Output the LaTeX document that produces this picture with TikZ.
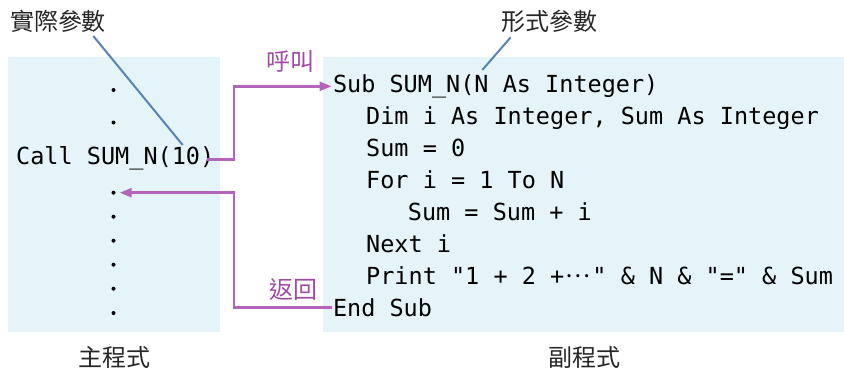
\documentclass[tikz,border=0pt]{standalone}
\usepackage{fontspec}
\setmonofont{DejaVu Sans Mono}
\newfontfamily\cjk{Noto Sans CJK TC}
\usetikzlibrary{arrows.meta}
\definecolor{panel}{HTML}{E4F4F8}
\definecolor{callc}{HTML}{B565B9}
\definecolor{labc}{HTML}{A04AA6}
\definecolor{linkc}{HTML}{5A82B4}
\tikzset{
  code/.style={anchor=base west,inner sep=0pt,font=\ttfamily\fontsize{23.5}{28}\selectfont},
  lab/.style={inner sep=0pt,font=\cjk\fontsize{24}{28}\selectfont,text=black!85},
  flowlab/.style={inner sep=0pt,font=\cjk\fontsize{24}{28}\selectfont,text=labc},
  dotn/.style={circle,fill=black,inner sep=0pt,minimum size=4pt},
  flow/.style={draw=callc,line width=2.6pt,-{Triangle[length=12pt,width=9pt]}},
  pointer/.style={draw=linkc,line width=2pt}
}
\newcommand{\middots}{\makebox[1.2em]{\raisebox{0.3em}{\cjk …}}}
\begin{document}
\begin{tikzpicture}[x=1pt,y=-1pt]
\useasboundingbox (0,0) rectangle (844,369);
% panels
\fill[panel] (8,57) rectangle (220,331.5);
\fill[panel] (322.5,57) rectangle (844,331.5);
% main program
\node[dotn] (d1) at (113.5,90) {};
\node[dotn] (d2) at (113.5,122.5) {};
\node[code] (call) at (16,164.5) {Call SUM\_N(10)};
\node[dotn] (d3) at (113.5,192.7) {};
\node[dotn] (d4) at (113.5,216.7) {};
\node[dotn] (d5) at (113.5,240.7) {};
\node[dotn] (d6) at (113.5,264.7) {};
\node[dotn] (d7) at (113.5,288.7) {};
\node[dotn] (d8) at (113.5,313) {};
% subroutine
\node[code] (sub)  at (332.8,92.5)  {Sub SUM\_N(N As Integer)};
\node[code] (dim)  at (366,124.5)   {Dim i As Integer, Sum As Integer};
\node[code] (sum0) at (366,156.5)   {Sum = 0};
\node[code] (for)  at (366,188.5)   {For i = 1 To N};
\node[code] (body) at (407.7,220.5) {Sum = Sum + i};
\node[code] (next) at (366,252.5)   {Next i};
\node[code] (prt)  at (366,284.5)   {Print "1 + 2 +\middots" \& N \& "=" \& Sum};
\node[code] (endsub) at (332.8,316.5) {End Sub};
% labels
\node[lab] (actual) at (58,21) {實際參數};
\node[lab] (formal) at (549,21) {形式參數};
\node[lab] (mainlab) at (114,357) {主程式};
\node[lab] (sublab) at (584.5,357) {副程式};
\node[flowlab] (calllab) at (290,62) {呼叫};
\node[flowlab] (retlab) at (293,289) {返回};
% pointers
\coordinate (a1) at (93.3,36);
\coordinate (a2) at (182.7,145);
\coordinate (f1) at (510.7,37.3);
\coordinate (f2) at (482.3,70);
\draw[pointer] (a1) -- (a2);
\draw[pointer] (f1) -- (f2);
% call and return
\coordinate (jx) at (234,0);
\draw[flow] ([xshift=-7.5pt,yshift=-1pt]call.east) -| (jx |- sub.west) -- ([xshift=-1.2pt]sub.west);
\draw[flow] ([xshift=-1.2pt]endsub.west) -| (jx |- d3) -- ([xshift=4pt]d3.east);
\end{tikzpicture}
\end{document}
